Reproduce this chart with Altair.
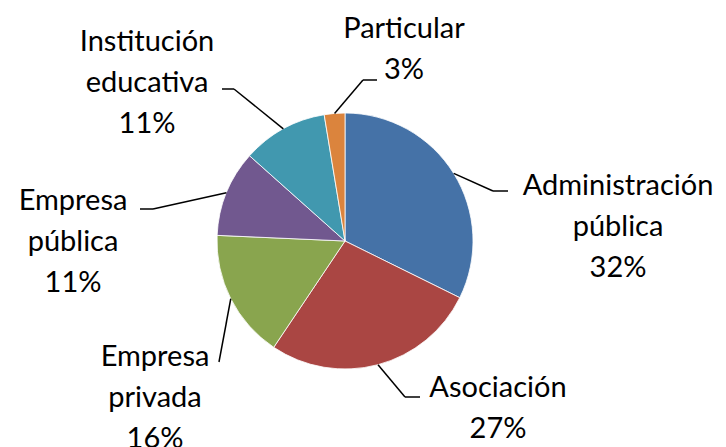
import altair as alt
import pandas as pd

# ---- data ----
categories = ["Administración pública", "Asociación", "Empresa privada",
              "Empresa pública", "Institución educativa", "Particular"]
label_names = ["Administración\npública", "Asociación", "Empresa\nprivada",
               "Empresa\npública", "Institución\neducativa", "Particular"]
values = [32.3, 27.1, 16.3, 10.9, 10.8, 2.6]
colors = ["#4572A7", "#AA4643", "#89A54E", "#71588F", "#4198AF", "#DB843D"]

# ---- layout (pixels inside the view) ----
CX, CY, R = 337, 233, 128
label_x = [610, 490, 147, 65, 139, 396]
label_y = [164, 366, 335, 179, 20, 7]
elbow_x = [485, 397, 211, 145, 226, 355]
elbow_y = [183, 389, 354, 201, 81, 72]
end_x = [500, 412, 211, 132, 214, 369]

df = pd.DataFrame({
    "name": categories, "label": label_names, "value": values,
    "idx": list(range(len(categories))),
    "lx": label_x, "ly": label_y, "ex": elbow_x, "ey": elbow_y, "hx": end_x,
})

color = alt.Color("name:N", scale=alt.Scale(domain=categories, range=colors), legend=None)

pie = alt.Chart(df).mark_arc(outerRadius=R, stroke="white", strokeWidth=0.8).encode(
    theta=alt.Theta("value:Q", stack=True),
    order=alt.Order("idx:Q"),
    color=color,
    x=alt.value(CX), y=alt.value(CY),
)

base = alt.Chart(df).transform_joinaggregate(
    total="sum(value)"
).transform_window(
    cum="sum(value)", sort=[alt.SortField("idx")]
).transform_calculate(
    mid="(datum.cum - datum.value/2) / datum.total * 2 * PI",
    sx=f"{CX} + {R} * sin(datum.mid)",
    sy=f"{CY} - {R} * cos(datum.mid)",
    txt="datum.label + '\\n' + format(datum.value/100, '.0%')",
)

lead1 = base.mark_rule(color="black", strokeWidth=1.5).encode(
    x=alt.X("sx:Q", scale=None, axis=None), y=alt.Y("sy:Q", scale=None, axis=None),
    x2="ex:Q", y2="ey:Q",
)
lead2 = base.mark_rule(color="black", strokeWidth=1.5).encode(
    x=alt.X("ex:Q", scale=None, axis=None), y=alt.Y("ey:Q", scale=None, axis=None),
    x2="hx:Q", y2="ey:Q",
)
text = base.mark_text(font="Lato", fontSize=29, lineBreak="\n", lineHeight=41,
                      align="center", baseline="top", color="black").encode(
    x=alt.X("lx:Q", scale=None, axis=None), y=alt.Y("ly:Q", scale=None, axis=None),
    text="txt:N",
)

chart = alt.layer(pie, lead1, lead2, text).properties(
    width=710, height=431, padding=0
).configure_view(stroke=None)

chart.save("out.html", embed_options={"renderer": "svg", "actions": False})
